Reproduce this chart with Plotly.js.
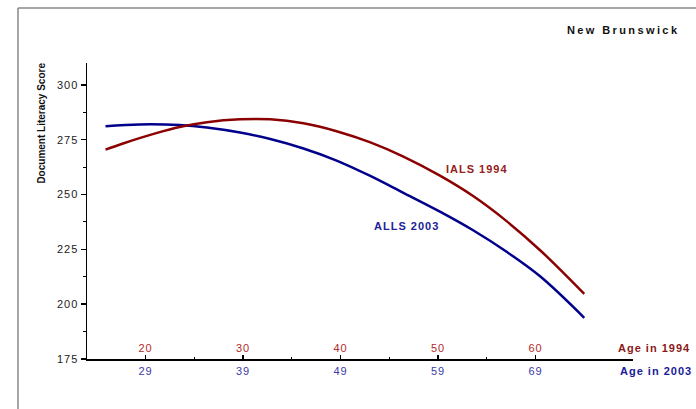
<!DOCTYPE html>
<html>
<head>
<meta charset="utf-8">
<script src="https://cdn.plot.ly/plotly-3.0.1.min.js"></script>
<style>
  html, body { margin: 0; padding: 0; background: #fff; }
  #chart { width: 696px; height: 409px; }
  text { letter-spacing: 1px; }
  #chart .annotation[data-index="0"] text { letter-spacing: 2.4px; }
  #chart .annotation[data-index="1"] text { letter-spacing: 0px; }
</style>
</head>
<body>
<div id="chart"></div>
<script>
// Age in 1994 (IALS 1994 cohort)
const ialsAge1994 = [15.9, 17.7, 21.1, 23.5, 26.3, 29.7, 32.8, 36.2, 39.6, 43.0, 46.4, 50.2, 53.6, 57.0, 60.5, 65.0];
const ialsScore   = [270.5, 273.3, 278.0, 280.8, 283.0, 284.3, 284.3, 282.5, 278.9, 273.9, 267.4, 258.6, 249.3, 238.0, 224.5, 204.7];

// Age in 2003 (ALLS 2003 cohort)
const allsAge2003 = [24.9, 28.4, 32.5, 35.3, 38.7, 41.8, 45.2, 48.6, 52.0, 55.4, 59.2, 62.6, 66.0, 69.5, 74.0];
const allsScore   = [281.2, 282.0, 281.7, 280.6, 278.3, 275.3, 271.0, 265.5, 258.6, 250.9, 242.2, 233.7, 224.0, 212.6, 193.8];

const ticks1994 = [20, 30, 40, 50, 60];
const minor1994 = [25, 35, 45, 55];
const ticks2003 = [29, 39, 49, 59, 69];
const yTicks = [175, 200, 225, 250, 275, 300];
const yMinor = [187.5, 212.5, 237.5, 262.5, 287.5];

const AGE_SHIFT = 9; // 2003 age = 1994 age + 9
const xRange1994 = [14, 70];
const xRange2003 = [xRange1994[0] + AGE_SHIFT, xRange1994[1] + AGE_SHIFT];

const RED = '#8b0000';
const BLUE = '#00008b';
const FONT = 'Liberation Sans, Arial, sans-serif';

const traces = [
  {
    x: ialsAge1994, y: ialsScore, xaxis: 'x3', yaxis: 'y',
    mode: 'lines', line: { color: RED, width: 2.5, shape: 'spline', smoothing: 1 },
    name: 'IALS 1994', hoverinfo: 'skip'
  },
  {
    x: allsAge2003, y: allsScore, xaxis: 'x2', yaxis: 'y',
    mode: 'lines', line: { color: BLUE, width: 2.5, shape: 'spline', smoothing: 1 },
    name: 'ALLS 2003', hoverinfo: 'skip'
  }
];

const layout = {
  width: 696, height: 409,
  margin: { l: 87, r: 63, t: 63, b: 50 },
  paper_bgcolor: '#ffffff', plot_bgcolor: '#ffffff',
  showlegend: false,
  font: { family: FONT, size: 11, color: '#222' },
  // main bottom axis: line + tick marks (1994 ages)
  xaxis: {
    range: xRange1994, side: 'bottom',
    tickmode: 'array', tickvals: ticks1994,
    ticks: 'inside', ticklen: 4, tickwidth: 1.5, tickcolor: '#000',
    showticklabels: false,
    minor: { tickvals: minor1994, ticks: 'inside', ticklen: 2, tickwidth: 1, tickcolor: '#000' },
    showline: true, linecolor: '#000', linewidth: 1.5,
    showgrid: false, zeroline: false, fixedrange: true
  },
  // 2003 ages, labels below the line
  xaxis2: {
    range: xRange2003, overlaying: 'x', anchor: 'y', side: 'bottom',
    tickmode: 'array', tickvals: ticks2003, ticktext: ticks2003.map(String),
    ticks: '', ticklabelstandoff: 4,
    tickfont: { family: FONT, size: 11, color: '#3a3aa8' },
    showline: false, showgrid: false, zeroline: false, fixedrange: true
  },
  // 1994 ages, labels just above the line
  xaxis3: {
    range: xRange1994, overlaying: 'x', anchor: 'free', position: 0, side: 'top',
    tickmode: 'array', tickvals: ticks1994, ticktext: ticks1994.map(String),
    ticks: '', ticklabelstandoff: 5,
    tickfont: { family: FONT, size: 11, color: '#b22a2a' },
    showline: false, showgrid: false, zeroline: false, fixedrange: true
  },
  yaxis: {
    range: [175, 310],
    tickmode: 'array', tickvals: yTicks, ticktext: yTicks.map(String),
    ticks: 'outside', ticklen: 5, tickwidth: 1.5, tickcolor: '#000',
    minor: { tickvals: yMinor, ticks: 'outside', ticklen: 3, tickwidth: 1, tickcolor: '#000' },
    tickfont: { family: FONT, size: 11, color: '#222' },
    showline: true, linecolor: '#000', linewidth: 1.5,
    showgrid: false, zeroline: false, fixedrange: true
  },
  shapes: [
    { type: 'line', xref: 'paper', yref: 'paper', x0: -0.1264, x1: 1.2, y0: 1.1858, y1: 1.1858,
      line: { color: '#888', width: 1.5 } },
    { type: 'line', xref: 'paper', yref: 'paper', x0: -0.1264, x1: -0.1264, y0: 1.1858, y1: -0.2,
      line: { color: '#888', width: 1.5 } }
  ],
  annotations: [
    { text: '<b>New Brunswick</b>', xref: 'paper', yref: 'paper', x: 0.982, y: 1.111,
      xanchor: 'center', yanchor: 'middle', showarrow: false,
      font: { family: FONT, size: 11, color: '#111' } },
    { text: '<b>Document Literacy Score</b>', xref: 'paper', yref: 'paper', x: -0.0842, y: 0.797,
      xanchor: 'center', yanchor: 'middle', textangle: -90, showarrow: false,
      font: { family: FONT, size: 10, color: '#111' } },
    { text: '<b>IALS 1994</b>', xref: 'x', yref: 'y', x: 54.0, y: 261.8,
      xanchor: 'center', yanchor: 'middle', showarrow: false,
      font: { family: FONT, size: 11, color: '#962020' } },
    { text: '<b>ALLS 2003</b>', xref: 'x', yref: 'y', x: 46.8, y: 235.5,
      xanchor: 'center', yanchor: 'middle', showarrow: false,
      font: { family: FONT, size: 11, color: '#22229a' } },
    { text: '<b>Age in 1994</b>', xref: 'paper', yref: 'paper', x: 1.108, y: 0.037,
      xanchor: 'right', yanchor: 'middle', showarrow: false,
      font: { family: FONT, size: 11, color: '#8b1a1a' } },
    { text: '<b>Age in 2003</b>', xref: 'paper', yref: 'paper', x: 1.112, y: -0.0405,
      xanchor: 'right', yanchor: 'middle', showarrow: false,
      font: { family: FONT, size: 11, color: '#1a1a99' } }
  ]
};

Plotly.newPlot('chart', traces, layout, { staticPlot: true, displayModeBar: false });
</script>
</body>
</html>
